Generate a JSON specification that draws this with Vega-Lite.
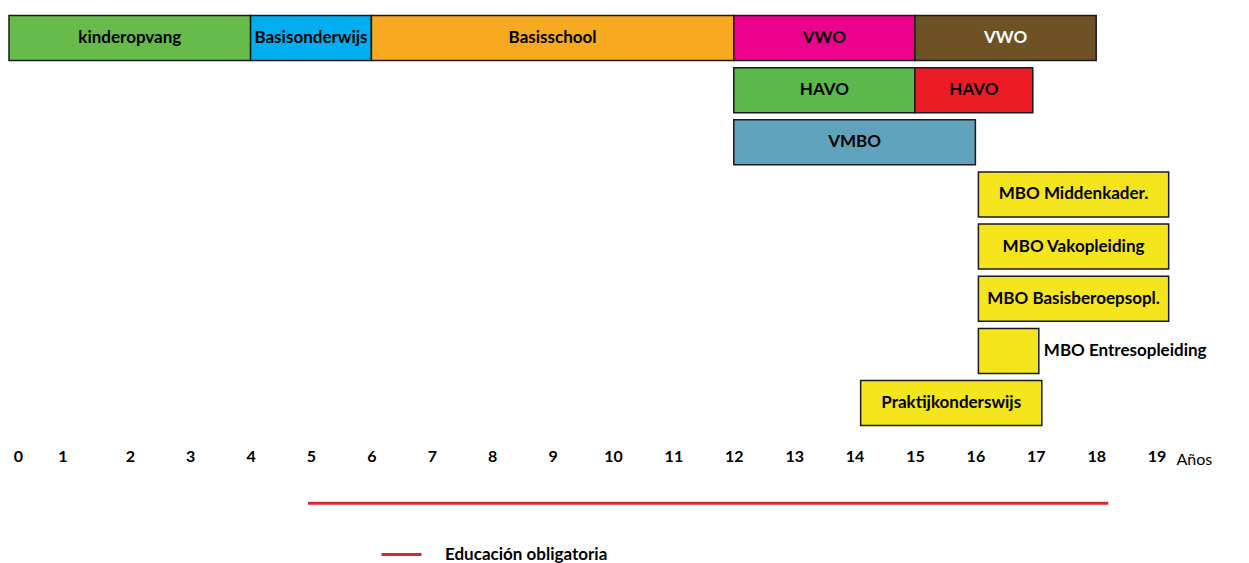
{
  "$schema": "https://vega.github.io/schema/vega-lite/v6.json",
  "width": 1249,
  "height": 563,
  "autosize": "none",
  "padding": 0,
  "background": "white",
  "config": {"view": {"stroke": null}, "font": "Lato"},
  "datasets": {
    "bars": [
      {"key": "kinder", "label": "kinderopvang", "start": 0, "end": 4, "row": "1"},
      {"key": "basisonderwijs", "label": "Basisonderwijs", "start": 4, "end": 6, "row": "1"},
      {"key": "basisschool", "label": "Basisschool", "start": 6, "end": 12, "row": "1"},
      {"key": "vwo1", "label": "VWO", "start": 12, "end": 15, "row": "1"},
      {"key": "vwo2", "label": "VWO", "start": 15, "end": 18, "row": "1"},
      {"key": "havo1", "label": "HAVO", "start": 12, "end": 15, "row": "2"},
      {"key": "havo2", "label": "HAVO", "start": 15, "end": 16.95, "row": "2"},
      {"key": "vmbo", "label": "VMBO", "start": 12, "end": 16, "row": "3"},
      {"key": "mbo", "label": "MBO Middenkader.", "start": 16.05, "end": 19.2, "row": "4"},
      {"key": "mbo", "label": "MBO Vakopleiding", "start": 16.05, "end": 19.2, "row": "5"},
      {"key": "mbo", "label": "MBO Basisberoepsopl.", "start": 16.05, "end": 19.2, "row": "6"},
      {"key": "mbo", "label": "MBO Entresopleiding", "start": 16.05, "end": 17.05, "row": "7"},
      {"key": "mbo", "label": "Praktijkonderswijs", "start": 14.1, "end": 17.1, "row": "8"}
    ],
    "line": [
      {"name": "Educación obligatoria", "start": 4.95, "end": 18.2, "row": "line"}
    ]
  },
  "layer": [
    {
      "data": {"name": "bars"},
      "mark": {"type": "bar", "stroke": "#1a1a1a", "strokeWidth": 1.5},
      "encoding": {
        "x": {"field": "start", "type": "quantitative",
          "scale": {"domain": [-0.149, 20.53], "nice": false, "zero": false},
          "axis": {"values": [0,1,2,3,4,5,6,7,8,9,10,11,12,13,14,15,16,17,18,19], "format": "d",
            "domain": false, "ticks": false, "grid": false,
            "offset": -107, "labelPadding": 0, "labelBaseline": "middle",
            "labelFont": "Lato", "labelFontWeight": "bold", "labelFontSize": 16, "labelColor": "black",
            "labelOffset": {"condition": [{"test": "datum.value == 0", "value": 9}, {"test": "datum.value == 1", "value": -7}], "value": 0},
            "title": "Años", "titleFont": "Lato", "titleFontWeight": "normal", "titleFontSize": 16,
            "titleColor": "black", "titleX": 1176, "titleY": 3, "titleAlign": "left", "titleBaseline": "middle", "titleAngle": 0}},
        "x2": {"field": "end"},
        "y": {"field": "row", "type": "nominal",
          "scale": {"domain": ["1","2","3","4","5","6","7","8","axis","line","legend"], "range": [15.5, 582], "paddingInner": 0.137, "paddingOuter": 0},
          "axis": null},
        "color": {"field": "key", "type": "nominal",
          "scale": {"domain": ["kinder","basisonderwijs","basisschool","vwo1","vwo2","havo1","havo2","vmbo","mbo"],
            "range": ["#66BB4A","#00AEEF","#F7A91F","#EC008C","#6E5124","#5BB84A","#ED1C24","#60A2BC","#F5E51D"]},
          "legend": null}
      }
    },
    {
      "data": {"name": "bars"},
      "transform": [
        {"filter": "datum.label != 'MBO Entresopleiding'"},
        {"calculate": "(datum.start + datum.end) / 2", "as": "mid"}
      ],
      "mark": {"type": "text", "font": "Lato", "fontWeight": "bold", "fontSize": 17, "align": "center", "baseline": "middle"},
      "encoding": {
        "x": {"field": "mid", "type": "quantitative"},
        "y": {"field": "row", "type": "nominal"},
        "text": {"field": "label"},
        "color": {"condition": {"test": "datum.key == 'vwo2'", "value": "white"}, "value": "black"}
      }
    },
    {
      "data": {"name": "bars"},
      "transform": [{"filter": "datum.label == 'MBO Entresopleiding'"}],
      "mark": {"type": "text", "font": "Lato", "fontWeight": "bold", "fontSize": 17, "align": "left", "baseline": "middle", "dx": 5, "color": "black"},
      "encoding": {
        "x": {"field": "end", "type": "quantitative"},
        "y": {"field": "row", "type": "nominal"},
        "text": {"field": "label"}
      }
    },
    {
      "data": {"name": "line"},
      "mark": {"type": "rule", "strokeWidth": 3, "yOffset": -4},
      "encoding": {
        "x": {"field": "start", "type": "quantitative"},
        "x2": {"field": "end"},
        "y": {"field": "row", "type": "nominal"},
        "color": {"field": "name", "type": "nominal",
          "scale": {"domain": ["Educación obligatoria"], "range": ["#D7282F"]},
          "legend": {"orient": "none", "legendX": 380, "legendY": 533, "title": null,
            "symbolType": "stroke", "symbolSize": 1600, "symbolStrokeWidth": 3, "labelLimit": 400,
            "labelFont": "Lato", "labelFontWeight": "bold", "labelFontSize": 17, "labelColor": "black", "labelOffset": 22}}
      }
    }
  ],
  "resolve": {"scale": {"color": "independent"}}
}
